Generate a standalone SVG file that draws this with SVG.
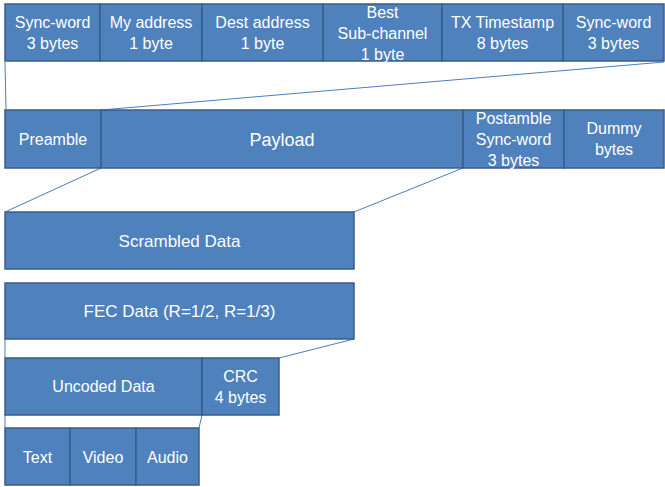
<svg xmlns="http://www.w3.org/2000/svg" width="665" height="487" viewBox="0 0 665 487">
<style>
.b{fill:#4F81BD;stroke:#385D8A;stroke-width:1.5}
.t{fill:#fff;font-family:"Liberation Sans",Arial,sans-serif;font-size:16px;text-anchor:middle}
.c{stroke:#4A7EBB;stroke-width:1;fill:none}
</style>
<rect width="665" height="487" fill="#fff"/>
<g id="connectors">
<line class="c" x1="5" y1="62" x2="6" y2="110"/>
<line class="c" x1="101" y1="110" x2="664" y2="62"/>
<line class="c" x1="101" y1="168" x2="5" y2="212"/>
<line class="c" x1="463" y1="168" x2="354" y2="212"/>
<line class="c" x1="5" y1="339" x2="5" y2="358"/>
<line class="c" x1="354" y1="339" x2="279" y2="358"/>
<line class="c" x1="5" y1="415" x2="5" y2="428"/>
<line class="c" x1="202" y1="415" x2="199" y2="428"/>
</g>
<g id="sync1"><rect class="b" x="5" y="4" width="95" height="57"/><text class="t" x="52.5" y="28">Sync-word</text><text class="t" x="52.5" y="49">3 bytes</text></g>
<g id="myaddr"><rect class="b" x="100" y="4" width="102" height="57"/><text class="t" x="151" y="28">My address</text><text class="t" x="151" y="49">1 byte</text></g>
<g id="destaddr"><rect class="b" x="202" y="4" width="121" height="57"/><text class="t" x="262.5" y="28">Dest address</text><text class="t" x="262.5" y="49">1 byte</text></g>
<g id="bestsub"><rect class="b" x="323" y="4" width="119" height="57"/><text class="t" x="382.5" y="18">Best</text><text class="t" x="382.5" y="39">Sub-channel</text><text class="t" x="382.5" y="60">1 byte</text></g>
<g id="txts"><rect class="b" x="442" y="4" width="121" height="57"/><text class="t" x="502.5" y="28">TX Timestamp</text><text class="t" x="502.5" y="49">8 bytes</text></g>
<g id="sync2"><rect class="b" x="563" y="4" width="101" height="57"/><text class="t" x="613.5" y="28">Sync-word</text><text class="t" x="613.5" y="49">3 bytes</text></g>
<g id="preamble"><rect class="b" x="5" y="110" width="96" height="58"/><text class="t" x="53" y="145">Preamble</text></g>
<g id="payload"><rect class="b" x="101" y="110" width="362" height="58"/><text class="t" x="282" y="146" style="font-size:18px">Payload</text></g>
<g id="postamble"><rect class="b" x="463" y="110" width="101" height="58"/><text class="t" x="513.5" y="124">Postamble</text><text class="t" x="513.5" y="145">Sync-word</text><text class="t" x="513.5" y="166">3 bytes</text></g>
<g id="dummy"><rect class="b" x="564" y="110" width="100" height="58"/><text class="t" x="614" y="134">Dummy</text><text class="t" x="614" y="155">bytes</text></g>
<g id="scrambled"><rect class="b" x="5" y="212" width="349" height="57"/><text class="t" x="179.5" y="247" style="font-size:17px">Scrambled Data</text></g>
<g id="fec"><rect class="b" x="5" y="283" width="349" height="56"/><text class="t" x="179.5" y="317" style="font-size:17px">FEC Data (R=1/2, R=1/3)</text></g>
<g id="uncoded"><rect class="b" x="5" y="358" width="197" height="57"/><text class="t" x="103.5" y="392">Uncoded Data</text></g>
<g id="crc"><rect class="b" x="202" y="358" width="77" height="57"/><text class="t" x="240.5" y="382">CRC</text><text class="t" x="240.5" y="403">4 bytes</text></g>
<g id="text"><rect class="b" x="5" y="428" width="65" height="57"/><text class="t" x="37.5" y="463">Text</text></g>
<g id="video"><rect class="b" x="70" y="428" width="66" height="57"/><text class="t" x="103" y="463">Video</text></g>
<g id="audio"><rect class="b" x="136" y="428" width="63" height="57"/><text class="t" x="167.5" y="463">Audio</text></g>
</svg>
